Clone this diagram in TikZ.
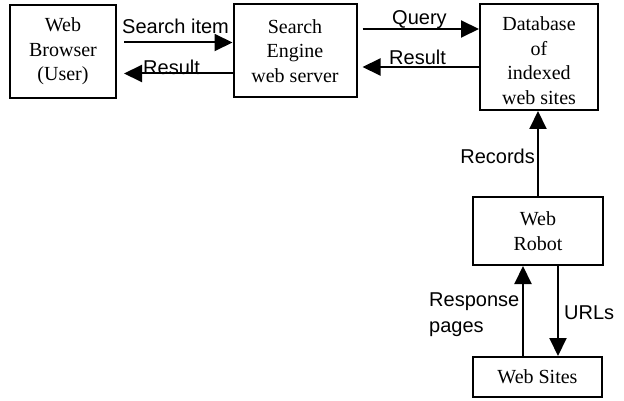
\documentclass[tikz,border=0pt]{standalone}
\usepackage{fontspec}
\setmainfont{Liberation Serif}
\newfontfamily\labelfont{Liberation Sans}
\usetikzlibrary{arrows.meta}
\begin{document}
\begin{tikzpicture}[x=1pt,y=-1pt,
  box/.style={draw,line width=2pt,inner sep=0pt,align=center,
    font=\fontsize{20}{24.5}\selectfont},
  arr/.style={line width=2pt,-{Triangle[length=18pt,width=17pt]}},
  lbl/.style={inner sep=0pt,font=\labelfont\fontsize{20}{26}\selectfont,align=left}]
\useasboundingbox (0,0) rectangle (624,401);
\node[box,minimum width=106pt,minimum height=93pt] (browser) at (63,51.5) {Web\\Browser\\(User)};
\node[box,minimum width=123pt,minimum height=93pt] (search) at (295,51) {Search\\Engine\\web server};
\node[box,minimum width=118pt,minimum height=106pt] (db) at (539,57) {\rule{0pt}{21pt}Database\\of\\indexed\\web sites};
\node[box,minimum width=130pt,minimum height=68pt] (robot) at (538,231) {Web\\Robot};
\node[box,minimum width=129pt,minimum height=40pt] (sites) at (537.5,377) {Web Sites};
% browser <-> search
\draw[arr,shorten <=7pt] ([yshift=9pt]browser.east) -- ([yshift=9pt]browser.east -| search.west);
\draw[arr,shorten >=7pt] ([yshift=-22.5pt]search.west) -- ([yshift=-22.5pt]search.west -| browser.east);
% search <-> db
\draw[arr,shorten <=5pt] ([yshift=22pt]search.east) -- ([yshift=22pt]search.east -| db.west);
\draw[arr,shorten >=5pt] ([yshift=-16pt]db.west |- search.center) -- ([yshift=-16pt]search.east);
% robot -> db
\draw[arr] (robot.north -| 538,0) -- (db.south -| 538,0);
% robot <-> sites
\draw[arr] (sites.north -| 523,0) -- (robot.south -| 523,0);
\draw[arr] (robot.south -| 558,0) -- (sites.north -| 558,0);
% labels
\node[lbl,anchor=west] (l1) at (122,26) {Search item};
\node[lbl,anchor=west] (l2) at (143,67) {Result};
\node[lbl,anchor=west] (l3) at (392,20) {Query};
\node[lbl,anchor=west] (l4) at (389,57) {Result};
\node[lbl,anchor=east] (l5) at (535,156) {Records};
\node[lbl,anchor=north west] (l6) at (429,293) {Response\\pages};
\node[lbl,anchor=west] (l7) at (564,313) {URLs};
\end{tikzpicture}
\end{document}
